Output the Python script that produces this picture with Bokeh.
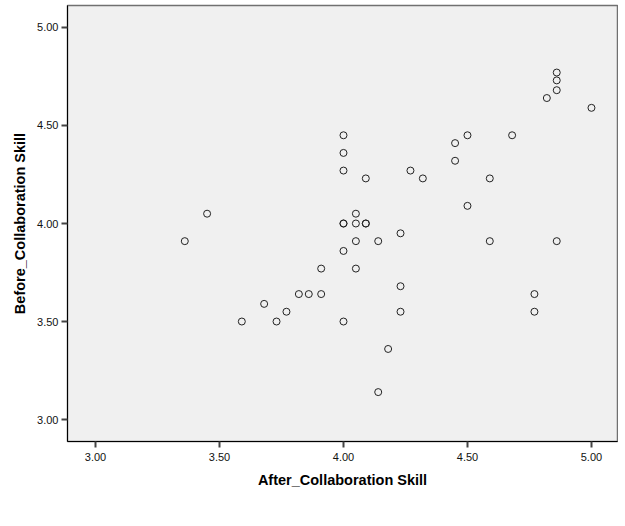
from bokeh.plotting import figure
from bokeh.models import Range1d, FixedTicker
from bokeh.embed import file_html
from bokeh.resources import INLINE

# Data (multiples of 1/22)
after_skill = [4.86, 4.86, 4.86, 4.82, 5.00, 4.00, 4.50, 4.68, 4.45, 4.00,
               4.45, 4.00, 4.27, 4.09, 4.32, 4.59, 4.50, 3.45, 4.05, 4.00,
               4.00, 4.05, 4.09, 4.09, 4.23, 3.36, 4.05, 4.14, 4.59, 4.86,
               4.00, 3.91, 4.05, 4.23, 3.82, 3.86, 3.91, 4.77, 3.68, 3.77,
               4.23, 4.77, 3.59, 3.73, 4.00, 4.18, 4.14]
before_skill = [4.77, 4.73, 4.68, 4.64, 4.59, 4.45, 4.45, 4.45, 4.41, 4.36,
                4.32, 4.27, 4.27, 4.23, 4.23, 4.23, 4.09, 4.05, 4.05, 4.00,
                4.00, 4.00, 4.00, 4.00, 3.95, 3.91, 3.91, 3.91, 3.91, 3.91,
                3.86, 3.77, 3.77, 3.68, 3.64, 3.64, 3.64, 3.64, 3.59, 3.55,
                3.55, 3.55, 3.50, 3.50, 3.50, 3.36, 3.14]
ticks = [3.0, 3.5, 4.0, 4.5, 5.0]
tick_labels = {3.0: "3.00", 3.5: "3.50", 4.0: "4.00", 4.5: "4.50", 5.0: "5.00"}

p = figure(width=618, height=505, output_backend="svg", toolbar_location=None,
           x_range=Range1d(2.887, 5.105), y_range=Range1d(2.888, 5.112),
           min_border_left=67, min_border_right=1, min_border_top=5,
           min_border_bottom=64)
p.background_fill_color = "#f0f0f0"
p.border_fill_color = "white"
p.outline_line_color = "#707070"
p.outline_line_width = 1.5
p.grid.visible = False

p.scatter(after_skill, before_skill, size=7, marker="circle",
          fill_color=None, line_color="#222222", line_width=1)

for ax in (p.xaxis[0], p.yaxis[0]):
    ax.ticker = FixedTicker(ticks=ticks)
    ax.major_label_overrides = tick_labels
    ax.minor_tick_line_color = None
    ax.major_tick_in = 0
    ax.major_tick_out = 6
    ax.major_tick_line_color = "#444444"
    ax.major_tick_line_width = 2
    ax.axis_line_color = "black"
    ax.axis_line_width = 1
    ax.major_label_text_font = "Liberation Sans"
    ax.major_label_text_font_size = "11px"
    ax.major_label_text_color = "#111111"
    ax.axis_label_text_font = "Liberation Sans"
    ax.axis_label_text_font_size = "14.5px"
    ax.axis_label_text_font_style = "bold"
    ax.axis_label_text_color = "black"

p.xaxis.axis_label = "After_Collaboration Skill"
p.yaxis.axis_label = "Before_Collaboration Skill"
p.xaxis.major_label_standoff = 5
p.xaxis.axis_label_standoff = 8
p.yaxis.major_label_standoff = 3
p.yaxis.axis_label_standoff = 6

open("out.html", "w").write(file_html(p, INLINE))
